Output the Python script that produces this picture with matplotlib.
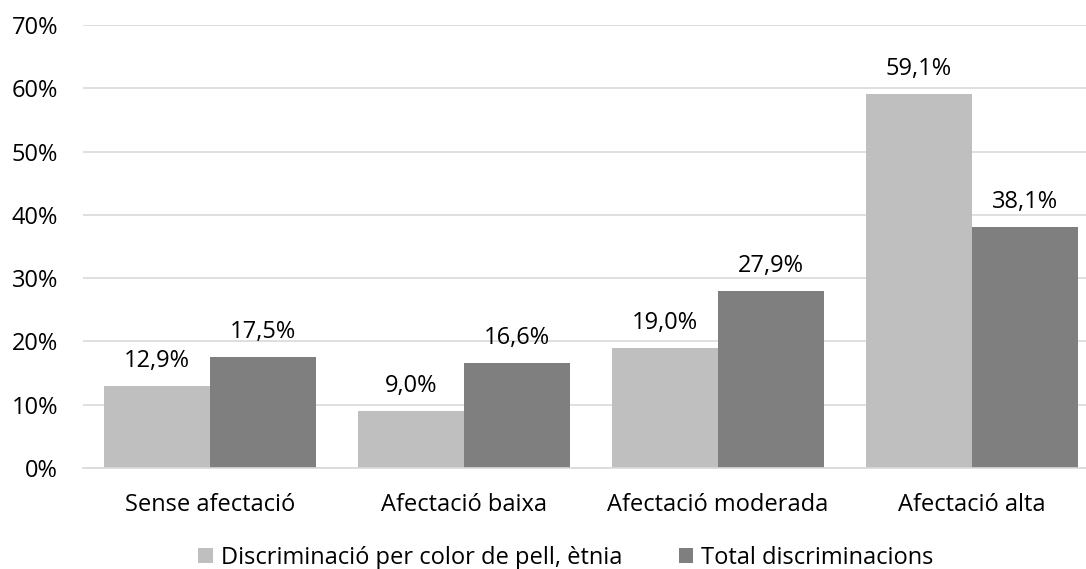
import matplotlib
matplotlib.use("Agg")
import matplotlib.pyplot as plt
import numpy as np

categories = ["Sense afectació", "Afectació baixa", "Afectació moderada", "Afectació alta"]
series_names = ["Discriminació per color de pell, ètnia", "Total discriminacions"]
pell_etnia = [12.9, 9.0, 19.0, 59.1]
total = [17.5, 16.6, 27.9, 38.1]
yticks = [0, 10, 20, 30, 40, 50, 60, 70]

plt.rcParams['font.family'] = ['Open Sans', 'DejaVu Sans']

W, H = 1086, 569
fig = plt.figure(figsize=(W / 100, H / 100), dpi=100)
# plot area in pixels: x 83..1099, y 25..468 (top-down)
ax = fig.add_axes([83 / W, 1 - 468 / H, (1099 - 83) / W, (468 - 25) / H])

colors = ["#BFBFBF", "#7F7F7F"]
x = np.arange(len(categories))
w = 0.417
fs = 17
for i, (vals, name) in enumerate(zip([pell_etnia, total], series_names)):
    pos = x + (i - 0.5) * w
    ax.bar(pos, vals, width=w, color=colors[i], label=name, zorder=2)
    for p, v in zip(pos, vals):
        ax.annotate(f"{v:.1f}%".replace(".", ","), (p, v), xytext=(0, 19),
                    textcoords="offset pixels", ha="center", va="baseline",
                    fontsize=fs, color="#000000")

ax.set_xlim(-0.5, len(categories) - 0.5)
ax.set_ylim(0, 70)
ax.set_yticks(yticks)
ax.set_yticklabels([f"{t}%" for t in yticks], fontsize=fs)
ax.set_xticks(x)
ax.set_xticklabels(categories, fontsize=fs)
ax.tick_params(axis="y", length=0, pad=18)
ax.tick_params(axis="x", length=0, pad=18)
ax.yaxis.grid(True, color="#D9D9D9", linewidth=1.2, zorder=0)
for s in ["top", "right", "left"]:
    ax.spines[s].set_visible(False)
ax.spines["bottom"].set_color("#D9D9D9")
ax.spines["bottom"].set_linewidth(1.2)

fig.legend(loc="center", bbox_to_anchor=(566 / W, 1 - 558 / H), ncol=2, frameon=False,
           fontsize=fs, handlelength=0.62, handleheight=0.62, handletextpad=0.34,
           columnspacing=2.4, borderpad=0)

fig.savefig("out.png", dpi=100)
